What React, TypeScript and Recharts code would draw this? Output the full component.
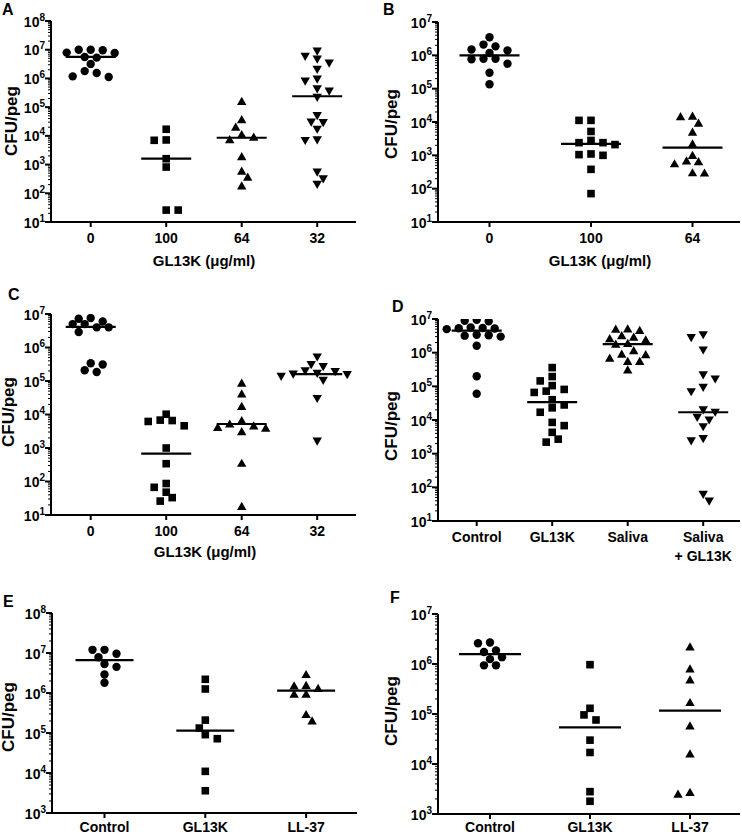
import React from "react";
import { ScatterChart, Scatter, XAxis, YAxis, ReferenceLine } from "recharts";

// CFU/peg values, one array per column
const catsA = ["0", "100", "64", "32"];
const a0 = [7.7e6, 1.0e7, 9.6e6, 1.0e7, 7.9e6, 5.3e6, 5.6e6, 3.2e6, 1.55e6, 1.8e6, 1.12e6, 1.18e6];
const a1 = [1.7e4, 7.0e3, 7.2e3, 1.6e3, 820, 26, 26];
const a2 = [1.6e5, 3.7e4, 2.0e4, 1.1e4, 9.1e3, 7.4e3, 1.9e3, 590, 365, 182];
const a3 = [9.0e6, 5.9e6, 4.7e6, 3.4e6, 2.07e6, 9.5e5, 8.1e5, 4.3e5, 3.6e5, 2.2e5, 5.1e4, 3.0e4, 2.9e4, 1.7e4, 7.3e3, 6.9e3, 550, 320, 205];
const medA = [5.6e6, 1.6e3, 8.6e3, 2.4e5];

const catsB = ["0", "100", "64"];
const b0 = [3.5e6, 1.86e6, 2.1e6, 1.4e6, 1.5e6, 1.17e6, 7.9e5, 7.6e5, 7.9e5, 5.6e5, 3.0e5, 1.35e5];
const b1 = [1.12e4, 1.12e4, 5.2e3, 2.4e3, 2.4e3, 2.8e3, 2.1e3, 1.1e3, 1.0e3, 1.05e3, 380, 71];
const b2 = [1.5e4, 1.45e4, 9.3e3, 5.0e3, 2.2e3, 1.0e3, 560, 680, 650, 295, 300];
const medB = [1.0e6, 2.2e3, 1.7e3];

const catsC = ["0", "100", "64", "32"];
const c0 = [6.0e6, 5.0e6, 7.2e6, 7.6e6, 4.0e6, 5.0e6, 4.0e6, 2.9e6, 3.1e5, 3.4e5, 1.85e5, 2.1e5];
const c1 = [1.02e4, 6.6e3, 4.6e3, 6.2e3, 6.8e3, 1.0e3, 340, 87, 48, 67, 26, 33];
const c2 = [8.7e4, 4.1e4, 1.74e4, 5.2e3, 4.1e3, 3.1e3, 3.9e3, 4.6e3, 6.6e3, 350, 18];
const c3 = [5.2e5, 3.1e5, 2.7e5, 2.0e5, 1.7e5, 1.55e5, 1.38e5, 1.6e5, 1.9e5, 1.05e5, 3.0e4, 1.6e3];
const medC = [4.1e6, 680, 5.2e3, 1.6e5];

const catsD = ["Control", "GL13K", "Saliva", "Saliva\n+ GL13K"];
const d0 = [8.5e6, 9.5e6, 8.9e6, 5.4e6, 5.0e6, 5.2e6, 5.6e6, 5.3e6, 3.2e6, 3.4e6, 3.0e6, 3.3e6, 1.6e6, 2.0e5, 6.0e4];
const d1 = [3.6e5, 1.95e5, 1.45e5, 1.05e5, 7.2e4, 6.6e4, 8.1e4, 4.0e4, 2.8e4, 2.3e4, 1.7e4, 8.5e3, 6.8e3, 4.3e3, 2.7e3, 2.2e3];
const d2 = [5.1e6, 4.6e6, 5.0e6, 2.9e6, 2.6e6, 2.4e6, 3.2e6, 1.9e6, 1.8e6, 9.1e5, 8.7e5, 1.15e6, 5.5e5, 5.5e5, 6.9e5, 3.1e5];
const d3 = [3.4e6, 2.8e6, 1.2e6, 2.2e5, 1.65e5, 9.3e4, 6.9e4, 2.0e4, 1.7e4, 1.2e4, 1.0e4, 6.3e3, 2.8e3, 2.4e3, 39, 62];
const medD = [4.5e6, 3.4e4, 1.8e6, 1.7e4];

const catsE = ["Control", "GL13K", "LL-37"];
const e0 = [1.2e7, 1.2e7, 9.6e6, 7.8e6, 5.3e6, 4.5e6, 2.9e6, 1.8e6];
const e1 = [2.2e6, 1.26e6, 2.1e5, 1.33e5, 9.1e4, 7.2e4, 1.1e4, 3.6e3];
const e2 = [2.9e6, 1.5e6, 1.55e6, 1.3e6, 9.4e5, 9.4e5, 2.0e5, 2.9e5];
const medE = [6.6e6, 1.15e5, 1.15e6];

const catsF = ["Control", "GL13K", "LL-37"];
const f0 = [2.7e6, 2.6e6, 1.87e6, 1.74e6, 1.25e6, 1.37e6, 9.4e5, 9.4e5];
const f1 = [9.7e5, 9.6e4, 1.3e5, 7.6e4, 3.0e4, 1.7e4, 2.8e3, 1.8e3];
const f2 = [2.2e6, 8.0e5, 4.8e5, 1.7e5, 5.8e4, 1.6e4, 2.5e3, 2.7e3];
const medF = [1.58e6, 5.4e4, 1.17e5];

const FONT = "'Liberation Sans', Arial, Helvetica, sans-serif";
const SHAPES = ["circle", "square", "up", "down"];

// panel layout (page pixels)
const panels = [
  { cats: catsA, groups: [a0, a1, a2, a3], meds: medA, yMin: 1e1, yMax: 1e8, left: 0, axisX: 51, xEnd: 356, yTop: 21, yBottom: 222, c0: 90.7, S: 75.5, half: 25, lab: 21 },
  { cats: catsB, groups: [b0, b1, b2], meds: medB, yMin: 1e1, yMax: 1e7, left: 370, axisX: 438, xEnd: 740, yTop: 22, yBottom: 222, c0: 489.5, S: 101.5, half: 30, lab: 21 },
  { cats: catsC, groups: [c0, c1, c2, c3], meds: medC, yMin: 1e1, yMax: 1e7, left: 0, axisX: 51, xEnd: 356, yTop: 314, yBottom: 515, c0: 90.7, S: 75.5, half: 25, lab: 21 },
  { cats: catsD, groups: [d0, d1, d2, d3], meds: medD, yMin: 1e1, yMax: 1e7, left: 370, axisX: 438, xEnd: 740, yTop: 319, yBottom: 521, c0: 476.7, S: 75.5, half: 25, lab: 21 },
  { cats: catsE, groups: [e0, e1, e2], meds: medE, yMin: 1e3, yMax: 1e8, left: 0, axisX: 52, xEnd: 357, yTop: 613, yBottom: 813, c0: 104.5, S: 100.8, half: 29, lab: 19 },
  { cats: catsF, groups: [f0, f1, f2], meds: medF, yMin: 1e3, yMax: 1e7, left: 370, axisX: 438, xEnd: 740, yTop: 614, yBottom: 814, c0: 490, S: 100, half: 31, lab: 18 },
];

// simple beeswarm: horizontal pixel offsets so markers don't pile up
function swarm(vals: number[], ppd: number, step = 6, gap = 8) {
  const order = vals.map((_, i) => i).sort((i, j) => vals[j] - vals[i]);
  const placed: { x: number; y: number }[] = [];
  const out: number[] = new Array(vals.length).fill(0);
  for (const i of order) {
    const y = -Math.log10(vals[i]) * ppd;
    const nl = placed.filter((p) => p.x < 0).length;
    const nr = placed.filter((p) => p.x > 0).length;
    for (let k = 0; k < 50; k++) {
      const cands = k === 0 ? [0] : nr < nl ? [k * step, -k * step] : [-k * step, k * step];
      const hit = cands.find((c) => placed.every((p) => Math.hypot(p.x - c, p.y - y) >= gap));
      if (hit !== undefined) {
        out[i] = hit;
        placed.push({ x: hit, y });
        break;
      }
    }
  }
  return out;
}

function logTicks(min: number, max: number) {
  const t: number[] = [];
  const lo = Math.round(Math.log10(min));
  const hi = Math.round(Math.log10(max));
  for (let e = lo; e <= hi; e++) {
    t.push(Math.pow(10, e));
    if (e < hi) for (let m = 2; m <= 9; m++) t.push(Number((m * Math.pow(10, e)).toPrecision(3)));
  }
  return t;
}

function Marker({ cx, cy, kind }: any) {
  if (cx == null || cy == null) return null;
  if (kind === "circle") return <circle cx={cx} cy={cy} r={4.2} fill="#000" />;
  if (kind === "square") return <rect x={cx - 3.8} y={cy - 3.8} width={7.6} height={7.6} fill="#000" />;
  if (kind === "up")
    return <polygon points={`${cx},${cy - 4.6} ${cx + 4.7},${cy + 3.6} ${cx - 4.7},${cy + 3.6}`} fill="#000" />;
  return <polygon points={`${cx},${cy + 4.6} ${cx + 4.7},${cy - 3.6} ${cx - 4.7},${cy - 3.6}`} fill="#000" />;
}

function YTick({ x, y, payload }: any) {
  const lv = Math.log10(payload.value);
  const e = Math.round(lv);
  const major = Math.abs(lv - e) < 1e-6;
  return (
    <g>
      <line x1={x - (major ? 6 : 3)} x2={x} y1={y} y2={y} stroke="#000" strokeWidth={major ? 2 : 1} />
      {major && (
        <text x={x - 6} y={y + 5.5} textAnchor="end" fontFamily={FONT} fontWeight={700} fontSize={14} fill="#000">
          <tspan>10</tspan>
          <tspan dy={-6} fontSize={10}>{e}</tspan>
        </text>
      )}
    </g>
  );
}

function XTick({ x, y, payload, cats, lab }: any) {
  const lines = String(cats[payload.value] ?? "").split("\n");
  return (
    <g>
      <line x1={x} x2={x} y1={y} y2={y + 5} stroke="#000" strokeWidth={2} />
      {lines.map((l, i) => (
        <text key={i} x={x} y={y + lab + i * 18.5} textAnchor="middle" fontFamily={FONT} fontWeight={700} fontSize={14} fill="#000">
          {l}
        </text>
      ))}
    </g>
  );
}

function Panel({ p }: any) {
  const S = p.S;
  const ppd = (p.yBottom - p.yTop) / Math.log10(p.yMax / p.yMin);
  const lo = (p.axisX - p.c0) / S;
  const hi = (p.xEnd - p.c0) / S;
  const mTop = 10;
  const width = p.xEnd - p.left + 4;
  const height = mTop + (p.yBottom - p.yTop) + 50;
  const ticks = logTicks(p.yMin, p.yMax);
  const axisStyle = { stroke: "#000", strokeWidth: 2 };
  return (
    <div style={{ position: "absolute", left: p.left, top: p.yTop - mTop }}>
      <ScatterChart width={width} height={height} margin={{ top: mTop, right: 4, bottom: 0, left: 0 }}>
        <XAxis
          type="number"
          dataKey="x"
          domain={[lo, hi]}
          allowDataOverflow
          ticks={p.cats.map((_: string, i: number) => i)}
          interval={0}
          height={50}
          axisLine={axisStyle}
          tickLine={false}
          tickSize={0}
          tickMargin={0}
          tick={(t: any) => <XTick {...t} cats={p.cats} lab={p.lab} />}
        />
        <YAxis
          type="number"
          dataKey="y"
          scale="log"
          domain={[p.yMin, p.yMax]}
          allowDataOverflow
          ticks={ticks}
          interval={0}
          width={p.axisX - p.left}
          axisLine={axisStyle}
          tickLine={false}
          tickSize={0}
          tickMargin={0}
          tick={(t: any) => <YTick {...t} />}
        />
        {p.groups.map((vals: number[], g: number) => {
          const off = swarm(vals, ppd);
          const data = vals.map((v, i) => ({ x: g + off[i] / S, y: v }));
          return (
            <Scatter
              key={g}
              data={data}
              isAnimationActive={false}
              shape={(s: any) => <Marker cx={s.cx} cy={s.cy} kind={SHAPES[g]} />}
            />
          );
        })}
        {p.meds.map((m: number, g: number) => (
          <ReferenceLine
            key={"m" + g}
            segment={[
              { x: g - p.half / S, y: m },
              { x: g + p.half / S, y: m },
            ]}
            stroke="#000"
            strokeWidth={2.2}
          />
        ))}
      </ScatterChart>
    </div>
  );
}

const letters = [
  { t: "A", x: 2, y: 15 },
  { t: "B", x: 383, y: 15 },
  { t: "C", x: 8, y: 300 },
  { t: "D", x: 392, y: 312 },
  { t: "E", x: 3, y: 607 },
  { t: "F", x: 390, y: 603 },
];
const yTitles = [
  { x: 11, y: 121 },
  { x: 391, y: 124 },
  { x: 8, y: 412 },
  { x: 391, y: 426 },
  { x: 8, y: 717 },
  { x: 391, y: 711 },
];
const xTitles = [
  { x: 204, y: 266 },
  { x: 600, y: 266 },
  { x: 205, y: 557 },
];

export default function App() {
  const txt = { fontFamily: FONT, fontWeight: 700, fill: "#000" } as const;
  return (
    <div style={{ position: "relative", width: 742, height: 835, background: "#fff", overflow: "hidden" }}>
      <style>{"body{margin:0}"}</style>
      {panels.map((p, i) => (
        <Panel key={i} p={p} />
      ))}
      <svg width={742} height={835} style={{ position: "absolute", left: 0, top: 0, pointerEvents: "none" }}>
        {letters.map((l) => (
          <text key={l.t} x={l.x} y={l.y} fontSize={16} {...txt}>
            {l.t}
          </text>
        ))}
        {yTitles.map((c, i) => (
          <text key={i} transform={`translate(${c.x},${c.y}) rotate(-90)`} textAnchor="middle" dominantBaseline="central" fontSize={17} {...txt}>
            CFU/peg
          </text>
        ))}
        {xTitles.map((c, i) => (
          <text key={i} x={c.x} y={c.y} textAnchor="middle" fontSize={15} {...txt}>
            GL13K (μg/ml)
          </text>
        ))}
      </svg>
    </div>
  );
}
